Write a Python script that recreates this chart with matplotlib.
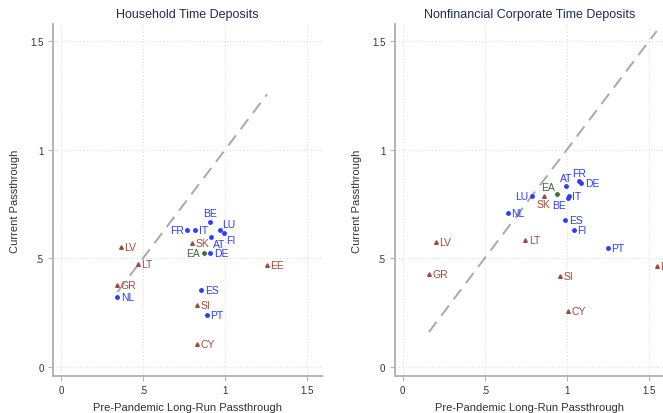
import matplotlib

matplotlib.use("Agg")

import matplotlib.pyplot as plt

plt.rcParams["font.family"] = ["Liberation Sans", "DejaVu Sans"]

# country groups
BLUE_GROUP = ["AT", "BE", "DE", "ES", "FI", "FR", "IT", "LU", "NL", "PT"]
RED_GROUP = ["CY", "EE", "GR", "LT", "LV", "SI", "SK"]
AGG_GROUP = ["EA"]

# household time deposits
hh_countries = ["AT", "BE", "DE", "ES", "FI", "FR", "IT", "LU", "NL", "PT",
                "CY", "EE", "GR", "LT", "LV", "SI", "SK", "EA"]
hh_pre = [0.916, 0.910, 0.910, 0.855, 0.995, 0.771, 0.818, 0.971, 0.344, 0.890,
          0.828, 1.256, 0.344, 0.468, 0.366, 0.828, 0.798, 0.869]
hh_cur = [0.600, 0.669, 0.526, 0.354, 0.617, 0.632, 0.628, 0.628, 0.323, 0.239,
          0.105, 0.471, 0.377, 0.474, 0.554, 0.285, 0.572, 0.526]

# nonfinancial corporate time deposits
nfc_countries = ["AT", "BE", "DE", "ES", "FI", "FR", "IT", "LU", "NL", "PT",
                 "CY", "EE", "GR", "LT", "LV", "SI", "SK", "EA"]
nfc_pre = [0.994, 1.006, 1.088, 0.991, 1.045, 1.074, 1.012, 0.789, 0.642, 1.249,
           1.006, 1.548, 0.160, 0.748, 0.202, 0.961, 0.859, 0.939]
nfc_cur = [0.832, 0.777, 0.849, 0.674, 0.632, 0.854, 0.786, 0.786, 0.708, 0.548,
           0.256, 0.463, 0.425, 0.585, 0.574, 0.420, 0.789, 0.798]

TICKS = [0, 0.5, 1, 1.5]
TICK_LABELS = ["0", ".5", "1", "1.5"]

# label placement (marker-label position), default is right
HH_PLACE = {"BE": "a", "LU": "ar", "FI": "br", "AT": "br", "FR": "l", "EA": "l"}
NFC_PLACE = {"AT": "a", "FR": "a", "EA": "al", "SK": "b", "LU": "l", "BE": "bl"}
PLACE = {
    "r": ((2.5, 0), "left", "center"),
    "l": ((-2.5, 0), "right", "center"),
    "a": ((0, 2.5), "center", "bottom"),
    "b": ((0, -2.5), "center", "top"),
    "ar": ((1.5, 1), "left", "bottom"),
    "br": ((1.5, -1.5), "left", "top"),
    "al": ((-1.5, 1), "right", "bottom"),
    "bl": ((-1.5, -1.5), "right", "top"),
}

BLUE = "#2b3dff"
RED = "#a3483c"
GREEN = "#3d6b3a"
AXIS_GREY = "#b4b4b4"
TEXT = "#333333"


def style_for(country):
    if country in BLUE_GROUP:
        return BLUE, "o", 2.5
    if country in RED_GROUP:
        return RED, "^", 2.6
    return GREEN, "D", 2.2


def draw_panel(ax, countries, xs, ys, placement, title):
    lo, hi = min(xs), max(xs)
    ax.plot([lo, hi], [lo, hi], color="#a8a8a8", lw=1.4, dashes=(6.5, 4), zorder=1)
    for c, x, y in zip(countries, xs, ys):
        color, marker, ms = style_for(c)
        ax.plot(x, y, marker=marker, color=color, ms=ms, mec=color, ls="none", zorder=3)
        off, ha, va = PLACE[placement.get(c, "r")]
        ax.annotate(c, (x, y), xytext=off, textcoords="offset points",
                    ha=ha, va=va, fontsize=7.5, color=color, zorder=4)

    ax.set_xlim(-0.047, 1.59)
    ax.set_ylim(-0.042, 1.58)
    ax.set_xticks(TICKS)
    ax.set_xticklabels(TICK_LABELS)
    ax.set_yticks(TICKS)
    ax.set_yticklabels(TICK_LABELS)
    ax.grid(True, color="#dcdcdc", ls=(0, (1, 2)), lw=0.8)
    ax.set_axisbelow(True)
    for side in ("top", "right"):
        ax.spines[side].set_visible(False)
    for side in ("left", "bottom"):
        ax.spines[side].set_color(AXIS_GREY)
        ax.spines[side].set_linewidth(1.4)
    ax.tick_params(colors=AXIS_GREY, labelcolor=TEXT, labelsize=7, length=3.5, width=0.8)
    ax.set_title(title, fontsize=9, color="#1e2d4f", pad=5)
    ax.set_xlabel("Pre-Pandemic Long-Run Passthrough", fontsize=8, color=TEXT, labelpad=5)
    ax.set_ylabel("Current Passthrough", fontsize=8, color=TEXT, labelpad=7)


fig = plt.figure(figsize=(6.63, 4.14), dpi=100)
ax1 = fig.add_axes([0.0804, 0.090, 0.405, 0.8495])
ax2 = fig.add_axes([0.5958, 0.090, 0.405, 0.8495])
draw_panel(ax1, hh_countries, hh_pre, hh_cur, HH_PLACE, "Household Time Deposits")
draw_panel(ax2, nfc_countries, nfc_pre, nfc_cur, NFC_PLACE,
           "Nonfinancial Corporate Time Deposits")
fig.savefig("out.png", dpi=100)
